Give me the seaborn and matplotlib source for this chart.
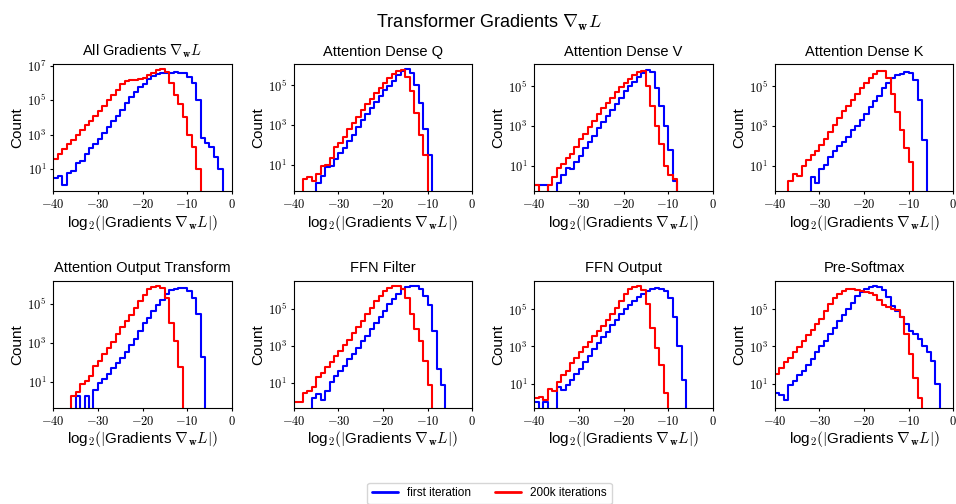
import math
import matplotlib
matplotlib.use("Agg")
import matplotlib.pyplot as plt
import seaborn as sns
from matplotlib.ticker import FixedLocator, NullLocator, FuncFormatter
from matplotlib.lines import Line2D

# ---------------- data ----------------
# histogram bins in log2 space, width 1, from -40 to 0
BIN_EDGES = list(range(-40, 1))
N = None  # empty bin

TITLES = [
    r"All Gradients $\nabla_{\mathbf{w}}L$",
    "Attention Dense Q",
    "Attention Dense V",
    "Attention Dense K",
    "Attention Output Transform",
    "FFN Filter",
    "FFN Output",
    "Pre-Softmax",
]
SERIES_LABELS = ["first iteration", "200k iterations"]
X_TICKS = [-40, -30, -20, -10, 0]
Y_TICKS = [1e1, 1e3, 1e5, 1e7]

# log10(count) per bin, bins listed from [-40,-39] to [-1,0]
all_first_log10 = [0.5, 0.6, 0.05, 0.75, 0.9, 1.35, 1.45, 1.85, 2.2, 2.45,
                   2.75, 3.1, 3.45, 3.8, 4.1, 4.45, 4.85, 5.2, 5.45, 5.75,
                   5.95, 6.2, 6.4, 6.5, 6.58, 6.6, 6.6, 6.62, 6.6, 6.55,
                   6.35, 6.0, 5.0, 2.8, 2.5, 2.3, 1.7, 1.0, N, N]
all_200k_log10 = [1.6, 1.85, 2.15, 2.45, 2.7, 3.0, 3.25, 3.55, 3.8, 4.1,
                  4.35, 4.65, 5.0, 5.3, 5.6, 5.95, 6.1, 6.17, 6.17, 6.2,
                  6.3, 6.45, 6.6, 6.72, 6.8, 6.65, 6.0, 5.3, 4.75, 4.0,
                  3.0, 2.3, 1.0, N, N, N, N, N, N, N]

q_first_log10 = [N, N, N, N, N, 0.1, 0.45, 0.9, 0.95, 1.3,
                 1.6, 1.85, 2.2, 2.5, 2.9, 3.25, 3.55, 3.85, 4.15, 4.45,
                 4.75, 4.95, 5.2, 5.5, 5.7, 5.8, 5.6, 5.0, 4.1, 2.8,
                 1.5, N, N, N, N, N, N, N, N, N]
q_200k_log10 = [N, N, 0.3, 0.4, 0.2, 0.55, 0.95, 1.0, 1.35, 1.9,
                2.1, 2.4, 2.8, 3.1, 3.4, 3.75, 4.05, 4.3, 4.6, 4.85,
                5.1, 5.35, 5.55, 5.7, 5.78, 5.4, 4.7, 3.6, 2.5, 1.5,
                N, N, N, N, N, N, N, N, N, N]

v_first_log10 = [0.0, 0.0, 0.0, N, N, 0.1, 0.5, 0.9, 0.8, 1.2,
                 1.5, 1.9, 2.2, 2.5, 2.9, 3.2, 3.5, 3.8, 4.1, 4.4,
                 4.75, 5.0, 5.2, 5.45, 5.65, 5.8, 5.7, 4.9, 4.0, 3.0,
                 1.8, 0.2, N, N, N, N, N, N, N, N]
v_200k_log10 = [0.0, N, N, 0.0, 0.4, 0.9, 1.1, 1.4, 1.6, 1.95,
                2.35, 2.6, 2.95, 3.25, 3.6, 3.9, 4.15, 4.4, 4.7, 4.95,
                5.15, 5.35, 5.55, 5.7, 5.75, 5.0, 4.0, 3.0, 2.1, 1.0,
                0.5, 0.3, N, N, N, N, N, N, N, N]

k_first_log10 = [N, N, N, N, N, N, N, N, 0.4, 0.1,
                 0.8, 1.05, 1.45, 1.75, 2.0, 2.2, 2.45, 2.8, 3.0, 3.3,
                 3.6, 3.95, 4.25, 4.5, 4.9, 5.15, 5.4, 5.55, 5.63, 5.7,
                 5.65, 5.3, 4.3, 2.3, N, N, N, N, N, N]
k_200k_log10 = [N, N, N, 0.2, 0.55, 0.45, 1.0, 1.3, 1.55, 1.75,
                2.05, 2.35, 2.7, 3.05, 3.4, 3.75, 4.0, 4.3, 4.6, 4.9,
                5.15, 5.4, 5.6, 5.78, 5.78, 5.4, 4.6, 3.7, 2.8, 1.9,
                1.2, N, N, N, N, N, N, N, N, N]

out_first_log10 = [N, N, N, N, N, 0.3, N, 0.3, N, 0.6,
                   0.95, 1.15, 1.4, 1.7, 2.0, 2.25, 2.55, 2.9, 3.2, 3.6,
                   4.0, 4.25, 4.65, 4.95, 5.2, 5.5, 5.68, 5.75, 5.8, 5.8,
                   5.65, 5.3, 4.5, 2.3, N, N, N, N, N, N]
out_200k_log10 = [N, N, N, N, 0.3, 0.5, 0.9, 1.05, 1.3, 1.85,
                  2.1, 2.45, 2.75, 3.05, 3.45, 3.8, 4.1, 4.45, 4.8, 5.15,
                  5.45, 5.75, 5.88, 5.92, 5.8, 5.3, 4.0, 3.1, 1.8, N,
                  N, N, N, N, N, N, N, N, N, N]

filt_first_log10 = [N, N, N, N, 0.2, 0.45, 0.1, 0.6, 1.1, 1.4,
                    1.65, 1.95, 2.3, 2.6, 2.9, 3.25, 3.55, 3.9, 4.25, 4.55,
                    4.9, 5.25, 5.55, 5.8, 6.05, 6.15, 6.2, 6.2, 6.05, 5.7,
                    5.2, 3.8, 1.8, 0.9, N, N, N, N, N, N]
filt_200k_log10 = [0.0, 0.0, 0.5, 0.6, 0.8, 1.35, 1.55, 1.9, 2.15, 2.45,
                   2.75, 3.05, 3.35, 3.7, 4.0, 4.35, 4.7, 5.05, 5.4, 5.7,
                   5.95, 6.1, 6.2, 6.25, 6.05, 5.6, 4.7, 3.9, 3.3, 2.2,
                   0.9, N, N, N, N, N, N, N, N, N]

ffno_first_log10 = [0.0, N, 0.0, N, N, 0.8, 0.65, 0.95, 1.2, 1.5,
                    1.8, 2.15, 2.5, 2.85, 3.2, 3.5, 3.8, 4.15, 4.45, 4.75,
                    5.0, 5.25, 5.45, 5.65, 5.85, 6.0, 6.1, 6.15, 6.12, 6.0,
                    5.6, 4.6, 3.0, 1.2, N, N, N, N, N, N]
ffno_200k_log10 = [0.2, 0.3, 0.1, 0.7, 0.6, 1.1, 1.45, 1.7, 2.1, 2.4,
                   2.7, 2.95, 3.25, 3.55, 3.85, 4.1, 4.45, 4.75, 5.1, 5.45,
                   5.85, 6.1, 6.2, 6.25, 6.05, 5.3, 4.0, 2.9, 2.0, 0.5,
                   N, N, N, N, N, N, N, N, N, N]

pre_first_log10 = [0.5, 0.4, 0.1, 0.95, 1.15, 1.45, 1.7, 2.0, 2.3, 2.7,
                   3.0, 3.3, 3.7, 4.0, 4.35, 4.7, 5.0, 5.35, 5.7, 5.95,
                   6.1, 6.2, 6.25, 6.22, 6.05, 5.65, 5.2, 4.9, 4.6, 4.2,
                   3.85, 3.65, 3.4, 3.0, 2.7, 2.2, 1.0, N, N, N]
pre_200k_log10 = [1.5, 1.85, 2.15, 2.4, 2.7, 2.95, 3.3, 3.6, 3.9, 4.2,
                  4.5, 4.9, 5.3, 5.6, 5.85, 6.0, 6.08, 6.1, 6.05, 5.98,
                  5.92, 5.88, 5.75, 5.5, 5.25, 5.12, 5.02, 4.95, 4.6, 3.7,
                  2.6, 1.3, 0.2, N, N, N, N, N, N, N]

FIRST = [all_first_log10, q_first_log10, v_first_log10, k_first_log10,
         out_first_log10, filt_first_log10, ffno_first_log10, pre_first_log10]
LATE = [all_200k_log10, q_200k_log10, v_200k_log10, k_200k_log10,
        out_200k_log10, filt_200k_log10, ffno_200k_log10, pre_200k_log10]
YTOP_LOG10 = [7.08, 6.05, 6.1, 6.1, 6.18, 6.51, 6.55, 6.55]

# ---------------- style ----------------
sns.set_style("ticks")
plt.rcParams.update({
    "font.family": ["Liberation Sans", "DejaVu Sans"],
    "mathtext.fontset": "cm",
    "axes.edgecolor": "black",
    "axes.linewidth": 0.8,
    "xtick.color": "black",
    "ytick.color": "black",
    "text.color": "black",
    "axes.labelcolor": "black",
    "xtick.labelsize": 9,
    "ytick.labelsize": 9,
    "xtick.major.size": 2.5,
    "ytick.major.size": 2.5,
    "xtick.major.pad": 2.5,
    "ytick.major.pad": 2.5,
})

fig, axes = plt.subplots(2, 4, figsize=(9.56, 5.04), dpi=100)
fig.subplots_adjust(left=53.3 / 956, right=953.3 / 956,
                    top=1 - 64.3 / 504, bottom=1 - 407.7 / 504,
                    wspace=0.348, hspace=0.703)

centers = [e + 0.5 for e in BIN_EDGES[:-1]]
colors = ["blue", "red"]

x_fmt = FuncFormatter(lambda v, pos: r"$%d$" % int(round(v)))
y_fmt = FuncFormatter(lambda v, pos: r"$10^{%d}$" % int(round(math.log10(v))))

for i, ax in enumerate(axes.flat):
    for vals, col in zip([FIRST[i], LATE[i]], colors):
        w = [0.0 if v is None else 10.0 ** v for v in vals]
        sns.histplot(x=centers, weights=w, bins=BIN_EDGES, element="step",
                     fill=False, color=col, linewidth=1.5, ax=ax)
    ax.set_yscale("log")
    ax.set_xlim(-40, 0)
    ax.set_ylim(0.5, 10 ** YTOP_LOG10[i])
    ax.xaxis.set_major_locator(FixedLocator(X_TICKS))
    ax.xaxis.set_major_formatter(x_fmt)
    ax.yaxis.set_major_locator(FixedLocator(Y_TICKS))
    ax.yaxis.set_major_formatter(y_fmt)
    ax.yaxis.set_minor_locator(NullLocator())
    ax.xaxis.set_minor_locator(NullLocator())
    ax.set_title(TITLES[i], fontsize=10.5)
    ax.set_ylabel("Count", fontsize=11, labelpad=2)
    ax.set_xlabel(r"log$_{\mathsf{2}}(|$Gradients $\nabla_{\mathbf{w}}L|)$",
                  fontsize=11, labelpad=1)
    for s in ax.spines.values():
        s.set_visible(True)
        s.set_color("black")

fig.suptitle(r"Transformer Gradients $\nabla_{\mathbf{w}}L$", fontsize=13,
             x=0.511, y=0.975)

handles = [Line2D([], [], color=c, lw=2) for c in colors]
fig.legend(handles, SERIES_LABELS, loc="lower center",
           bbox_to_anchor=(0.512, -0.012), ncol=2, fontsize=8.5,
           frameon=True, handlelength=2.2)

fig.savefig("out.png", dpi=100)
